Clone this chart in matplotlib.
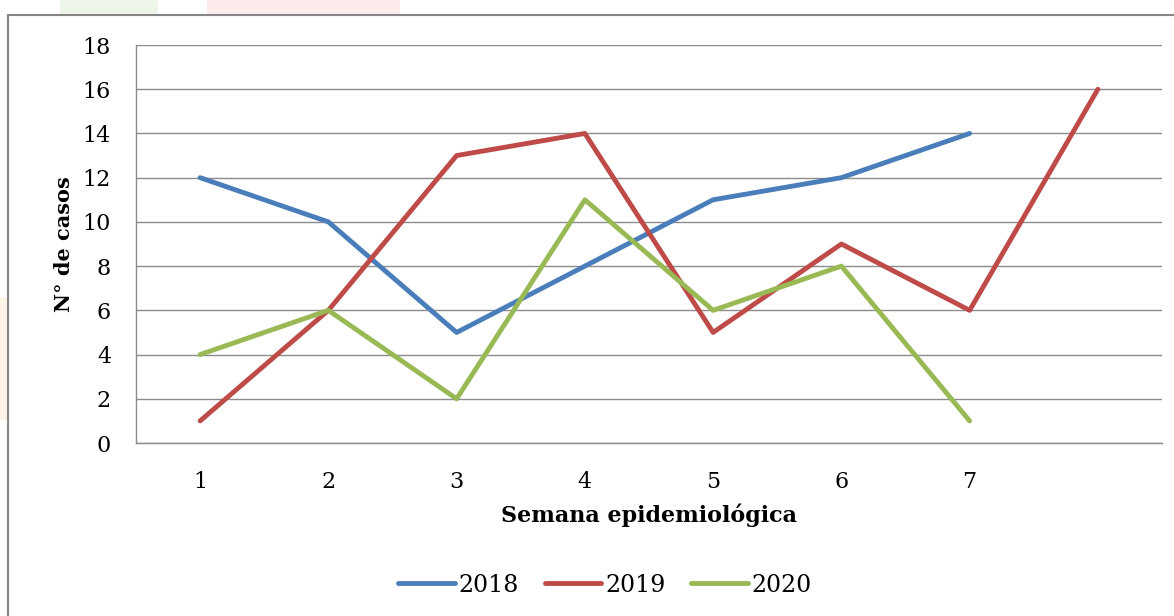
import matplotlib.pyplot as plt
from matplotlib.patches import Rectangle

# Casos por semana epidemiologica
semanas = [1, 2, 3, 4, 5, 6, 7, 8]
semana_labels = ['1', '2', '3', '4', '5', '6', '7', '']
casos_2018 = [12, 10, 5, 8, 11, 12, 14]
casos_2019 = [1, 6, 13, 14, 5, 9, 6, 16]
casos_2020 = [4, 6, 2, 11, 6, 8, 1]

colors = {'2018': '#4a7ebb', '2019': '#be4b48', '2020': '#98b954'}

plt.rcParams['font.family'] = ['DejaVu Serif']

W, H = 1174, 616
fig = plt.figure(figsize=(W/100, H/100), dpi=100)

# faint watermark behind the chart frame
fig.patches.append(Rectangle((60/W, 1 - 15/H), 98/W, 15/H, transform=fig.transFigure,
                             color='#eef6ea', linewidth=0, zorder=-3))
fig.patches.append(Rectangle((207/W, 1 - 15/H), 193/W, 15/H, transform=fig.transFigure,
                             color='#fcebeb', linewidth=0, zorder=-3))
fig.patches.append(Rectangle((0, 1 - 420/H), 8/W, 123/H, transform=fig.transFigure,
                             color='#fdf3e6', linewidth=0, zorder=-3))

# outer chart frame
fig.patches.append(Rectangle((8/W, -0.05), 1.1, 1 - 15/H + 0.05, transform=fig.transFigure,
                             facecolor='white', edgecolor='#868686', linewidth=1.5, zorder=-2))

ax = fig.add_axes([136/W, 1 - 443/H, (1162 - 136)/W, (443 - 45)/H])
ax.set_facecolor('none')

ax.plot(semanas[:7], casos_2018, color=colors['2018'], linewidth=3.5, label='2018', solid_capstyle='round')
ax.plot(semanas, casos_2019, color=colors['2019'], linewidth=3.5, label='2019', solid_capstyle='round')
ax.plot(semanas[:7], casos_2020, color=colors['2020'], linewidth=3.5, label='2020', solid_capstyle='round')

ax.set_xlim(0.5, 8.5)
ax.set_ylim(0, 18)
ax.set_yticks(range(0, 19, 2))
ax.set_xticks(semanas)
ax.set_xticklabels(semana_labels)
ax.yaxis.grid(True, color='#8c8c8c', linewidth=1)
ax.set_axisbelow(True)
ax.tick_params(axis='both', length=0, labelsize=16)
ax.tick_params(axis='y', pad=18)
ax.tick_params(axis='x', pad=20)
for side in ['top', 'right']:
    ax.spines[side].set_visible(False)
for side in ['left', 'bottom']:
    ax.spines[side].set_color('#8c8c8c')
    ax.spines[side].set_linewidth(1)

ax.set_xlabel('Semana epidemiológica', fontsize=16, fontweight='bold', labelpad=8)
ax.set_ylabel('N° de casos', fontsize=15, fontweight='bold', labelpad=6)

fig.legend(loc='center', bbox_to_anchor=(605/W, 1 - 585/H), ncol=3, frameon=False,
           fontsize=17, handlelength=2.4, handletextpad=0.15, columnspacing=1.1)

fig.savefig('out.png', dpi=100)
